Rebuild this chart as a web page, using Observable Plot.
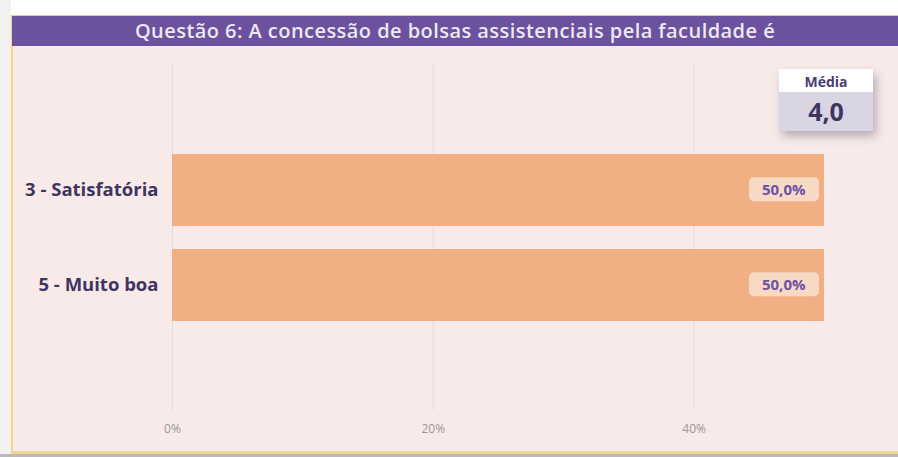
<!DOCTYPE html>
<html>
<head>
<meta charset="utf-8">
<script src="https://cdn.jsdelivr.net/npm/d3@7"></script>
<script src="https://cdn.jsdelivr.net/npm/@observablehq/plot@0.6"></script>
<style>
  html, body { margin: 0; padding: 0; }
  body { width: 898px; height: 457px; position: relative; overflow: hidden; background: #ffffff; font-family: "Open Sans", "Noto Sans", sans-serif; }
  #leftstrip { position: absolute; left: 0; top: 0; width: 11px; height: 457px; background: #f1f1f1; }
  #bottomstrip { position: absolute; left: 0; top: 454px; width: 898px; height: 3px; background: #b9b9bb; }
  #frame { position: absolute; left: 11px; top: 15px; width: 887px; height: 436px; background: #f9eaea; border-left: 2px solid #f0d68e; border-bottom: 3px solid #f0d68e; box-sizing: content-box; }
  #header { position: absolute; left: 12px; top: 15px; width: 886px; height: 31px; background: #6b519e; color: #ebe7f3; font-size: 20px; letter-spacing: 0.45px; font-weight: 600; text-align: center; line-height: 30px; border-top: 1px solid #d9cfa0; box-sizing: border-box; }
  #chart { position: absolute; left: 0; top: 0; }
  #media { position: absolute; left: 779px; top: 69px; width: 94px; height: 62px; box-shadow: 3px 5px 9px rgba(60,50,80,0.35); }
  #media .lab { height: 23px; background: #ffffff; color: #4a3d73; font-weight: 700; font-size: 14px; text-align: center; line-height: 25px; }
  #media .val { height: 39px; background: #d9d5e2; color: #3f3562; font-weight: 700; font-size: 25px; text-align: center; line-height: 39px; }
</style>
</head>
<body>
<div id="leftstrip"></div>
<div id="frame"></div>
<div id="bottomstrip"></div>
<div id="chart"></div>
<div id="header"></div>
<div id="media"><div class="lab"></div><div class="val"></div></div>
<script>
const title = "Questão 6: A concessão de bolsas assistenciais pela faculdade é";
const categories = ["3 - Satisfatória", "5 - Muito boa"];
const values = [50.0, 50.0];
const valueLabels = ["50,0%", "50,0%"];
const tickValues = [0, 20, 40];
const tickLabels = ["0%", "20%", "40%"];
const mediaLabel = "Média";
const mediaValue = "4,0";

document.getElementById("header").textContent = title;
document.querySelector("#media .lab").textContent = mediaLabel;
document.querySelector("#media .val").textContent = mediaValue;

const data = categories.map((c, i) => ({category: c, value: values[i], label: valueLabels[i]}));

const chart = Plot.plot({
  width: 898,
  height: 457,
  marginLeft: 172,
  marginRight: 74,
  marginTop: 65,
  marginBottom: 47,
  style: {background: "transparent", fontFamily: "'Open Sans', 'Noto Sans', sans-serif"},
  x: {domain: [0, 50], axis: null},
  y: {domain: categories, paddingInner: 0.24, paddingOuter: 0.917, axis: null},
  marks: [
    Plot.gridX(tickValues, {stroke: "#e4dada", strokeOpacity: 1, strokeWidth: 1}),
    Plot.axisX(tickValues, {tickSize: 0, tickPadding: 14, label: null, tickFormat: (d) => tickLabels[tickValues.indexOf(d)], fontSize: 12, fill: "#9a9696", anchor: "bottom"}),
    Plot.barX(data, {x: "value", y: "category", fill: "#f0b083"}),
    Plot.axisY(categories, {tickSize: 0, tickPadding: 14, label: null, fontSize: 18.5, fontWeight: "bold", fill: "#3f3562", anchor: "left"}),
    Plot.text(data, {x: "value", y: "category", text: "label", textAnchor: "end", dx: -19, fontSize: 15, fontWeight: "bold", fill: "#6a52a8", className: "vlabel"})
  ]
});
document.getElementById("chart").appendChild(chart);

// rounded background boxes behind value labels
document.querySelectorAll(".vlabel text").forEach(t => {
  const b = t.getBBox();
  const r = document.createElementNS("http://www.w3.org/2000/svg", "rect");
  r.setAttribute("x", b.x - 13);
  r.setAttribute("y", b.y - 2);
  r.setAttribute("width", b.width + 26);
  r.setAttribute("height", b.height + 4);
  r.setAttribute("rx", 5);
  r.setAttribute("fill", "#f8d9c4");
  const tr = t.getAttribute("transform");
  if (tr) r.setAttribute("transform", tr);
  t.parentNode.insertBefore(r, t);
});
</script>
</body>
</html>
